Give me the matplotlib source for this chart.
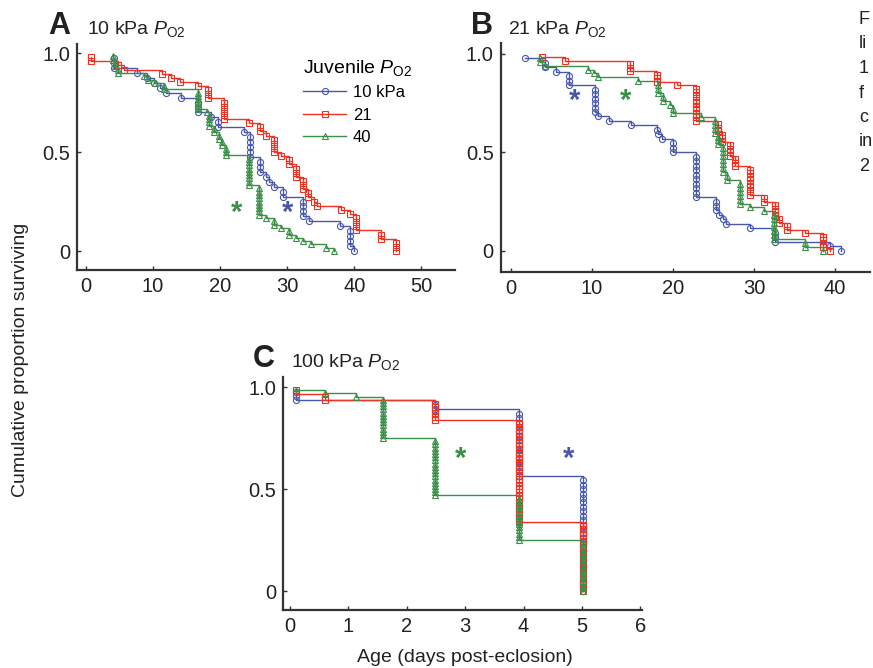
import matplotlib
matplotlib.use("Agg")
import matplotlib.pyplot as plt

plt.rcParams['font.family'] = ['Liberation Sans', 'DejaVu Sans']
plt.rcParams['mathtext.fontset'] = 'custom'
plt.rcParams['mathtext.rm'] = 'Liberation Sans'
plt.rcParams['mathtext.it'] = 'Liberation Sans:italic'

# ages at death (days) and number of deaths at that age, per panel / juvenile PO2
# panel A: adults at 10 kPa
A10_age = [4.2, 7.6, 9.1, 10.1, 11.1, 11.9, 14.1, 16.7, 18.7, 19.7, 23.6, 24.5, 26.0, 26.8, 27.3, 28.0, 29.3, 32.3, 33.3, 37.9, 39.3, 39.9]
A10_dead = [3, 1, 1, 1, 1, 1, 1, 3, 1, 2, 1, 5, 3, 1, 1, 1, 2, 4, 1, 1, 4, 1]
A21_age = [0.7, 4.8, 5.6, 11.4, 12.6, 14.0, 16.7, 18.2, 20.5, 24.3, 26.0, 26.9, 28.0, 29.0, 30.3, 31.3, 32.3, 33.1, 34.0, 34.5, 38.0, 39.3, 40.3, 44.0, 46.2]
A21_dead = [2, 1, 1, 1, 1, 1, 1, 3, 5, 1, 2, 1, 4, 1, 2, 3, 3, 2, 1, 1, 1, 1, 4, 2, 3]
A40_age = [4.0, 4.3, 4.8, 8.6, 9.3, 10.3, 11.6, 16.7, 18.1, 18.3, 19.1, 19.8, 20.3, 20.8, 24.3, 25.8, 26.8, 28.0, 29.0, 30.3, 31.3, 32.3, 33.5, 35.8, 37.0]
A40_dead = [2, 2, 2, 1, 1, 1, 2, 6, 1, 4, 2, 2, 2, 3, 9, 9, 1, 2, 1, 2, 1, 1, 1, 1, 1]

# panel B: adults at 21 kPa
B10_age = [1.7, 4.2, 5.6, 7.2, 10.4, 10.8, 12.1, 14.8, 18.0, 18.2, 18.7, 20.0, 22.8, 25.3, 25.7, 26.2, 26.5, 29.5, 32.6, 39.4, 40.7]
B10_dead = [1, 2, 1, 3, 6, 1, 1, 1, 1, 1, 1, 3, 10, 3, 1, 1, 1, 1, 3, 1, 1]
B21_age = [3.8, 6.7, 14.7, 18.0, 20.5, 22.8, 25.6, 26.0, 27.0, 27.7, 29.5, 31.2, 32.6, 33.1, 34.1, 36.3, 38.5, 39.4]
B21_dead = [1, 1, 3, 3, 1, 10, 3, 3, 4, 3, 8, 2, 4, 2, 2, 1, 4, 1]
B40_age = [3.6, 4.2, 9.5, 10.2, 10.8, 15.7, 18.2, 18.8, 19.6, 20.0, 23.5, 25.2, 25.6, 26.2, 26.6, 28.3, 29.5, 31.2, 32.5, 36.3, 38.5]
B40_dead = [2, 1, 1, 1, 1, 1, 3, 2, 1, 2, 1, 4, 3, 7, 2, 6, 1, 1, 7, 2, 1]

# panel C: adults at 100 kPa
C10_age = [0.11, 2.48, 3.93, 5.02]
C10_dead = [3, 2, 15, 26]
C21_age = [0.11, 0.6, 2.48, 3.93, 5.02]
C21_dead = [2, 2, 6, 31, 21]
C40_age = [0.11, 0.6, 1.13, 1.6, 2.48, 3.93, 5.02]
C40_dead = [1, 1, 1, 13, 18, 14, 16]

groups = ['10 kPa', '21', '40']
colors = ['#4757ad', '#ee3325', '#3c8f48']
markers = ['o', 's', '^']


def km_points(ages, deaths):
    # one point per death, survival drops by 1/n each time
    n = sum(deaths)
    t, s = [], []
    dead = 0
    for a, d in zip(ages, deaths):
        for k in range(d):
            dead += 1
            t.append(a)
            s.append(1 - dead / n)
    return t, s


def draw(ax, series, xlim, ylim, xticks):
    for (ages, deaths), c, m, lab in zip(series, colors, markers, groups):
        t, s = km_points(ages, deaths)
        ax.step(t, s, where='post', color=c, lw=1.0, marker=m, ms=4.4,
                mfc='none', mec=c, mew=0.8, label=lab)
    ax.set_xlim(xlim)
    ax.set_ylim(ylim)
    ax.set_xticks(xticks)
    ax.set_yticks([0, 0.5, 1.0])
    ax.set_yticklabels(['0', '0.5', '1.0'])
    for sp in ['top', 'right']:
        ax.spines[sp].set_visible(False)
    for sp in ['left', 'bottom']:
        ax.spines[sp].set_linewidth(1.6)
        ax.spines[sp].set_color('#333333')
    ax.tick_params(direction='in', length=3, width=1, colors='#333333',
                   labelsize=14.5, labelcolor='#222222', pad=5)


fig = plt.figure(figsize=(8.73, 6.68), dpi=100)

axA = fig.add_axes([0.0882, 0.5958, 0.433, 0.338])
draw(axA, [(A10_age, A10_dead), (A21_age, A21_dead), (A40_age, A40_dead)],
     (-1.34, 55), (-0.096, 1.045), range(0, 51, 10))
axA.text(22.5, 0.15, '*', color=colors[2], fontsize=21, ha='center', fontweight='bold')
axA.text(30.0, 0.15, '*', color=colors[0], fontsize=21, ha='center', fontweight='bold')
leg = axA.legend(loc='upper left', bbox_to_anchor=(0.58, 0.97), frameon=False,
                 title=r'Juvenile $P_{\mathrm{O2}}$', fontsize=12, title_fontsize=14,
                 handlelength=2.6, labelspacing=0.45, handletextpad=0.4, borderaxespad=0)
leg._legend_box.align = 'left'

axB = fig.add_axes([0.5735, 0.593, 0.423, 0.343])
draw(axB, [(B10_age, B10_dead), (B21_age, B21_dead), (B40_age, B40_dead)],
     (-1.27, 44.3), (-0.107, 1.056), range(0, 41, 10))
axB.text(7.8, 0.72, '*', color=colors[0], fontsize=21, ha='center', fontweight='bold')
axB.text(14.1, 0.72, '*', color=colors[2], fontsize=21, ha='center', fontweight='bold')

axC = fig.add_axes([0.3242, 0.0868, 0.4112, 0.349])
draw(axC, [(C10_age, C10_dead), (C21_age, C21_dead), (C40_age, C40_dead)],
     (-0.12, 6.03), (-0.093, 1.05), range(0, 7))
axC.text(2.92, 0.61, '*', color=colors[2], fontsize=21, ha='center', fontweight='bold')
axC.text(4.77, 0.61, '*', color=colors[0], fontsize=21, ha='center', fontweight='bold')

# panel letters and titles
fig.text(48 / 873, 1 - 34 / 668, 'A', fontsize=22, fontweight='bold', color='#222222')
fig.text(87 / 873, 1 - 34 / 668, r'10 kPa $P_{\mathrm{O2}}$', fontsize=14, color='#222222')
fig.text(471 / 873, 1 - 34 / 668, 'B', fontsize=22, fontweight='bold', color='#222222')
fig.text(508 / 873, 1 - 34 / 668, r'21 kPa $P_{\mathrm{O2}}$', fontsize=14, color='#222222')
fig.text(253 / 873, 1 - 367 / 668, 'C', fontsize=22, fontweight='bold', color='#222222')
fig.text(291 / 873, 1 - 367 / 668, r'100 kPa $P_{\mathrm{O2}}$', fontsize=14, color='#222222')

fig.text(21 / 873, 1 - 360 / 668, 'Cumulative proportion surviving', rotation=90,
         ha='center', va='center', fontsize=14, color='#222222')
fig.text(465 / 873, 1 - 657 / 668, 'Age (days post-eclosion)', ha='center', va='center',
         fontsize=14, color='#222222')

# caption fragments at the right edge
caption = ['F', 'li', '1', 'f', 'c', 'in', '2']
for i, s in enumerate(caption):
    fig.text(859 / 873, 1 - (24 + 24.5 * i) / 668, s, fontsize=13, color='#222222')

fig.savefig('out.png', dpi=100)
